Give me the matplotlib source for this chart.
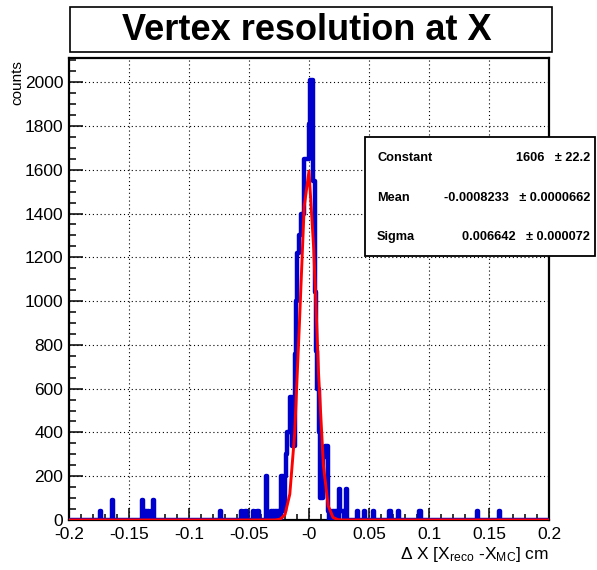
import numpy as np
import matplotlib
matplotlib.use('Agg')
import matplotlib.pyplot as plt
from matplotlib.patches import Rectangle
from matplotlib.ticker import FixedLocator, MultipleLocator, FuncFormatter

plt.rcParams['font.family'] = ['Liberation Sans', 'DejaVu Sans']
plt.rcParams['mathtext.fontset'] = 'custom'
plt.rcParams['mathtext.rm'] = 'Liberation Sans'
plt.rcParams['mathtext.it'] = 'Liberation Sans'

blue = '#0000cc'
red = '#ff0000'

# histogram: 400 bins from -0.2 to 0.2 cm
n_bins = 400
x_lo, x_hi = -0.2, 0.2

# core of the distribution, one value per bin starting at core_start
core_start = -0.058
core_counts = [0, 40, 0, 0, 0, 40, 0, 0, 0, 0,
               0, 40, 0, 0, 0, 40, 0, 0, 0, 0,
               0, 0, 200, 0, 0, 0, 40, 0, 40, 0,
               40, 0, 40, 40, 0, 200, 40, 40, 200, 300,
               400, 400, 560, 560, 340, 340, 760, 1000, 1220, 1220,
               1300, 1400, 1400, 1400, 1650, 1650, 1650, 1650, 1810, 2010,
               2010, 1550, 1550, 1040, 770, 600, 400, 100, 100, 100,
               290, 340, 340, 340, 40, 0, 40, 0, 40, 0,
               40, 40, 0, 140, 40, 40, 40, 0, 0, 140]

# isolated entries in the tails
outlier_x = [-0.1735, -0.1635, -0.1385, -0.1375, -0.1355, -0.1335, -0.1315, -0.1295,
             -0.0735, 0.0405, 0.0465, 0.0535, 0.0675, 0.0745, 0.0925, 0.1405, 0.1585]
outlier_counts = [40, 90, 90, 40, 40, 40, 40, 90,
                  40, 40, 40, 40, 40, 40, 40, 40, 40]

# gaussian fit result
fit_names = ['Constant', 'Mean', 'Sigma']
fit_values = ['1606', '-0.0008233', '0.006642']
fit_errors = ['22.2', '0.0000662', '0.000072']
fit_const, fit_mean, fit_sigma = 1606.0, -0.0008233, 0.006642

edges = np.linspace(x_lo, x_hi, n_bins + 1)
counts = np.zeros(n_bins)
k0 = int(round((core_start - x_lo) / (edges[1] - edges[0])))
counts[k0:k0 + len(core_counts)] = core_counts
for xv, c in zip(outlier_x, outlier_counts):
    counts[np.searchsorted(edges, xv) - 1] = c

W, H = 597, 570
fig = plt.figure(figsize=(W / 100, H / 100), dpi=100)
ax = fig.add_axes([69 / W, 1 - 520 / H, 480 / W, 462 / H])

ax.stairs(counts, edges, color=blue, linewidth=3.2, joinstyle='round', zorder=3)
xf = np.linspace(x_lo, x_hi, 101)
yf = fit_const * np.exp(-0.5 * ((xf - fit_mean) / fit_sigma) ** 2)
ax.plot(xf, yf, color=red, linewidth=2.1, zorder=4)

ax.set_xlim(x_lo, x_hi)
ax.set_ylim(0, 1.05 * counts.max())

ax.xaxis.set_major_locator(FixedLocator(np.arange(-0.2, 0.2001, 0.05)))
ax.xaxis.set_minor_locator(MultipleLocator(0.01))
ax.yaxis.set_major_locator(MultipleLocator(200))
ax.yaxis.set_minor_locator(MultipleLocator(50))
ax.xaxis.set_major_formatter(FuncFormatter(lambda v, p: '%g' % round(v, 3)))
ax.tick_params(axis='both', which='both', direction='in', width=1.1, labelsize=12.5)
ax.tick_params(axis='x', which='major', length=8.5, pad=5)
ax.tick_params(axis='x', which='minor', length=4.2)
ax.tick_params(axis='y', which='major', length=10, pad=4)
ax.tick_params(axis='y', which='minor', length=5)
ax.grid(True, which='major', color='k', linestyle=(0, (1, 2.5)), linewidth=0.8)
ax.set_axisbelow(True)
for s in ax.spines.values():
    s.set_linewidth(1.6)

ax.set_xlabel(r'$\Delta$ X [X$_{\mathrm{reco}}$ -X$_{\mathrm{MC}}$] cm', fontsize=12.5,
              loc='right', labelpad=2)
fig.text(17 / W, 1 - 60 / H, 'counts', rotation=90, ha='center', va='top', fontsize=11)

# title box
fig.add_artist(Rectangle((70 / W, 1 - 52 / H), 482 / W, 45 / H, transform=fig.transFigure,
                         facecolor='white', edgecolor='k', linewidth=1.2))
fig.text(307 / W, 1 - 30 / H, 'Vertex resolution at X', ha='center', va='center',
         fontsize=26, fontweight='bold')

# stats box
fig.add_artist(Rectangle((365 / W, 1 - 256 / H), 230 / W, 119 / H, transform=fig.transFigure,
                         facecolor='white', edgecolor='k', linewidth=1.3, zorder=10))
row_y = [158, 198, 237]
for name, val, err, yy in zip(fit_names, fit_values, fit_errors, row_y):
    fig.text(377 / W, 1 - yy / H, name, ha='left', va='center', fontsize=9.2,
             fontweight='bold', zorder=11)
    fig.text(590 / W, 1 - yy / H, val + '   \u00b1 ' + err, ha='right', va='center',
             fontsize=9.2, fontweight='bold', zorder=11)

fig.savefig('out.png', dpi=100)
